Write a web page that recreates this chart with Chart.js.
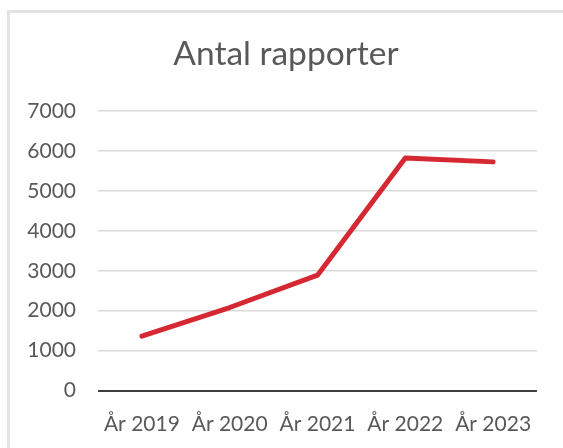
<!DOCTYPE html>
<html>
<head>
<meta charset="utf-8">
<script src="https://cdn.jsdelivr.net/npm/chart.js@4"></script>
<style>
  html, body { margin: 0; padding: 0; background: #fff; }
  #wrap { position: relative; width: 563px; height: 448px; overflow: hidden; }
  #frame { position: absolute; left: 7px; top: 10px; width: 700px; height: 600px;
           border-left: 3px solid #e3e3e3; border-top: 3px solid #e3e3e3; }
  canvas { position: absolute; left: 0; top: 0; }
</style>
</head>
<body>
<div id="wrap">
  <div id="frame"></div>
  <canvas id="c" width="563" height="448"></canvas>
</div>
<script>
const categories = ["År 2019", "År 2020", "År 2021", "År 2022", "År 2023"];
const reports = [1360, 2080, 2890, 5830, 5730];
const yTicks = [0, 1000, 2000, 3000, 4000, 5000, 6000, 7000];

const grey = '#595959';
const fontFamily = 'Lato, "Open Sans", sans-serif';

new Chart(document.getElementById('c'), {
  type: 'line',
  data: {
    labels: categories,
    datasets: [{
      label: 'Antal rapporter',
      data: reports,
      borderColor: '#d62833',
      borderWidth: 5,
      borderCapStyle: 'round',
      borderJoinStyle: 'round',
      pointRadius: 0,
      tension: 0,
      fill: false,
      yAxisID: 'y'
    }]
  },
  options: {
    responsive: false,
    animation: false,
    layout: { padding: { left: 20, right: 11, top: 0, bottom: 0 } },
    plugins: {
      legend: { display: false },
      tooltip: { enabled: false },
      title: {
        display: true,
        text: 'Antal rapporter',
        color: grey,
        font: { family: fontFamily, size: 33.5, weight: 'normal' },
        padding: { top: 34, bottom: 37 }
      }
    },
    scales: {
      x: {
        offset: true,
        grid: { display: false, drawTicks: false, offset: true },
        border: { display: false },
        ticks: {
          color: grey,
          font: { family: fontFamily, size: 21 },
          padding: 21,
          maxRotation: 0,
          autoSkip: false
        },
        afterFit: (s) => { s.height = 57.5; s.paddingLeft = 0; s.paddingRight = 0; }
      },
      y: {
        min: yTicks[0],
        max: yTicks[yTicks.length - 1],
        afterBuildTicks: (s) => { s.ticks = yTicks.map(v => ({ value: v })); },
        grid: {
          drawTicks: false,
          color: (ctx) => ctx.tick && ctx.tick.value === 0 ? '#3f3f3f' : '#d9d9d9',
          lineWidth: (ctx) => ctx.tick && ctx.tick.value === 0 ? 2 : 1.5
        },
        border: { display: false },
        ticks: {
          color: grey,
          font: { family: fontFamily, size: 21 },
          padding: 22,
          callback: (v) => String(v)
        },
        afterFit: (s) => { s.width = 78; }
      },
      yRight: {
        position: 'right',
        min: 0,
        max: 1,
        grid: { display: false, drawTicks: false },
        border: { display: false },
        ticks: { display: false },
        afterFit: (s) => { s.width = 15; }
      }
    }
  }
});
</script>
</body>
</html>
